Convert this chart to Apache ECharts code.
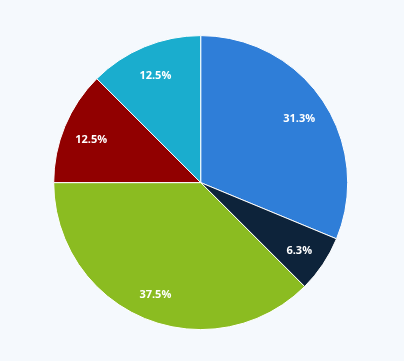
<!DOCTYPE html>
<html><head><meta charset="utf-8">
<script src="https://cdn.jsdelivr.net/npm/echarts@6/dist/echarts.min.js"></script>
<style>html,body{margin:0;padding:0;background:#f5f9fd;}#c{width:404px;height:361px;}</style>
</head><body><div id="c"></div>
<script>
const categories = ['A', 'B', 'C', 'D', 'E'];
const values = [5, 1, 6, 2, 2];
const colors = ['#2f7ed8', '#0d233a', '#8bbc21', '#910000', '#1aadce'];

const data = categories.map((n, i) => ({ name: n, value: values[i], itemStyle: { color: colors[i] } }));
const total = values.reduce((a, b) => a + b, 0);
const chart = echarts.init(document.getElementById('c'));
chart.setOption({
  backgroundColor: '#f5f9fd',
  animation: false,
  series: [
    {
      type: 'pie', center: [200.7, 182.6], radius: [0, 147], startAngle: 90, clockwise: true,
      data: data, label: { show: false }, labelLine: { show: false },
      itemStyle: { borderColor: '#ffffff', borderWidth: 1 }, silent: true
    },
    {
      type: 'pie', center: [200.7, 182.6], radius: [84, 147], startAngle: 90, clockwise: true,
      data: data.map(d => ({ name: d.name, value: d.value, itemStyle: { color: 'rgba(0,0,0,0)' } })),
      itemStyle: { borderWidth: 0 }, silent: true, labelLine: { show: false },
      label: {
        show: true, position: 'inside', color: '#ffffff', fontWeight: 'bold', fontSize: 11,
        fontFamily: 'Open Sans', offset: [0, 2.5],
        formatter: p => (p.value / total * 100).toFixed(1) + '%'
      }
    }
  ]
});
</script></body></html>
